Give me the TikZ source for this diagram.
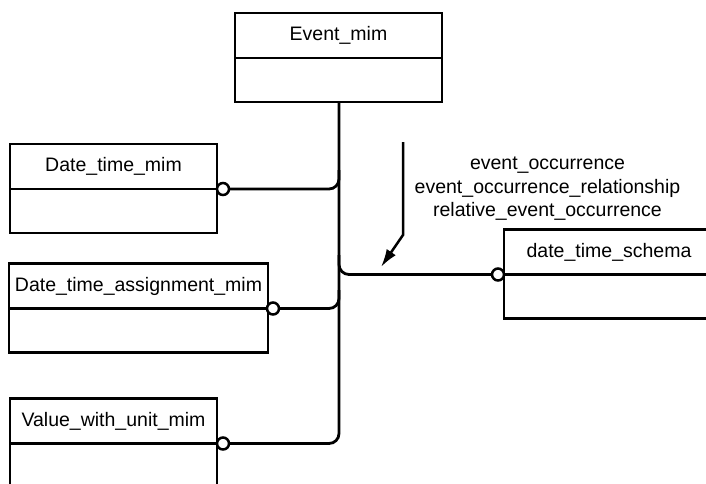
\documentclass[tikz,border=0pt]{standalone}
\usepackage{fontspec}
\setmainfont{Liberation Sans}
\usetikzlibrary{arrows.meta,calc}
\begin{document}
\begin{tikzpicture}[x=1pt,y=-1pt,
  lw/.style={line width=2.8pt},
  hdr/.style={draw,lw,rectangle,inner sep=0pt,outer sep=0pt,minimum height=45pt,font=\fontsize{19.5}{23}\selectfont},
  bdy/.style={draw,lw,rectangle,inner sep=0pt,outer sep=0pt,minimum height=44pt},
  circ/.style={draw,line width=2.5pt,circle,fill=white,minimum size=12pt,inner sep=0pt,outer sep=0pt},
  conn/.style={line width=2.8pt,rounded corners=10pt}]
\useasboundingbox (0,0) rectangle (706,483);
\clip (0,0) rectangle (706,483);
% Event_mim
\node[hdr,minimum width=207pt] (eh) at (338.5,35.5) {Event\_mim};
\node[bdy,minimum width=207pt,anchor=north] (eb) at (eh.south) {};
% Date_time_mim
\node[hdr,minimum width=207pt] (dh) at (113.5,166.5) {Date\_time\_mim};
\node[bdy,minimum width=207pt,anchor=north] (db) at (dh.south) {};
% Date_time_assignment_mim
\node[hdr,minimum width=259pt] (ah) at (138.5,286) {Date\_time\_assignment\_mim};
\node[bdy,minimum width=259pt,anchor=north] (ab) at (ah.south) {};
% Value_with_unit_mim
\node[hdr,minimum width=207pt] (vh) at (113.5,421) {Value\_with\_unit\_mim};
\node[bdy,minimum width=207pt,anchor=north] (vb) at (vh.south) {};
% date_time_schema
\node[hdr,minimum width=210pt] (sh) at (609,252) {date\_time\_schema};
\node[bdy,minimum width=210pt,anchor=north] (sb) at (sh.south) {};
% circles
\node[circ] (cd) at ($(dh.south east)+(6,0)$) {};
\node[circ] (ca) at ($(ah.south east)+(5,0)$) {};
\node[circ] (cv) at ($(vh.south east)+(6,0)$) {};
\node[circ] (cs) at ($(sh.south west)+(-6,0)$) {};
% junction coordinates on trunk
\coordinate (tx) at (339,102);
\coordinate (jd) at (339,170);
\coordinate (ja) at (339,290);
\coordinate (js) at (339,255);
% trunk and branches
\draw[conn] (tx) |- (cv.east);
\draw[conn] (cd.east) -| (jd);
\draw[conn] (ca.east) -| (ja);
\draw[conn] (js) |- (cs.west);
% label
\node[align=center,font=\fontsize{19.5}{23.5}\selectfont] (lbl) at (547.5,189)
  {event\_occurrence\\event\_occurrence\_relationship\\relative\_event\_occurrence};
% arrow
\coordinate (a1) at (403,142);
\coordinate (a2) at (403,235);
\coordinate (a3) at (381,267);
\draw[line width=2.5pt,-{Latex[length=18pt,width=11pt]}] (a1) -- (a2) -- (a3);
\end{tikzpicture}
\end{document}
